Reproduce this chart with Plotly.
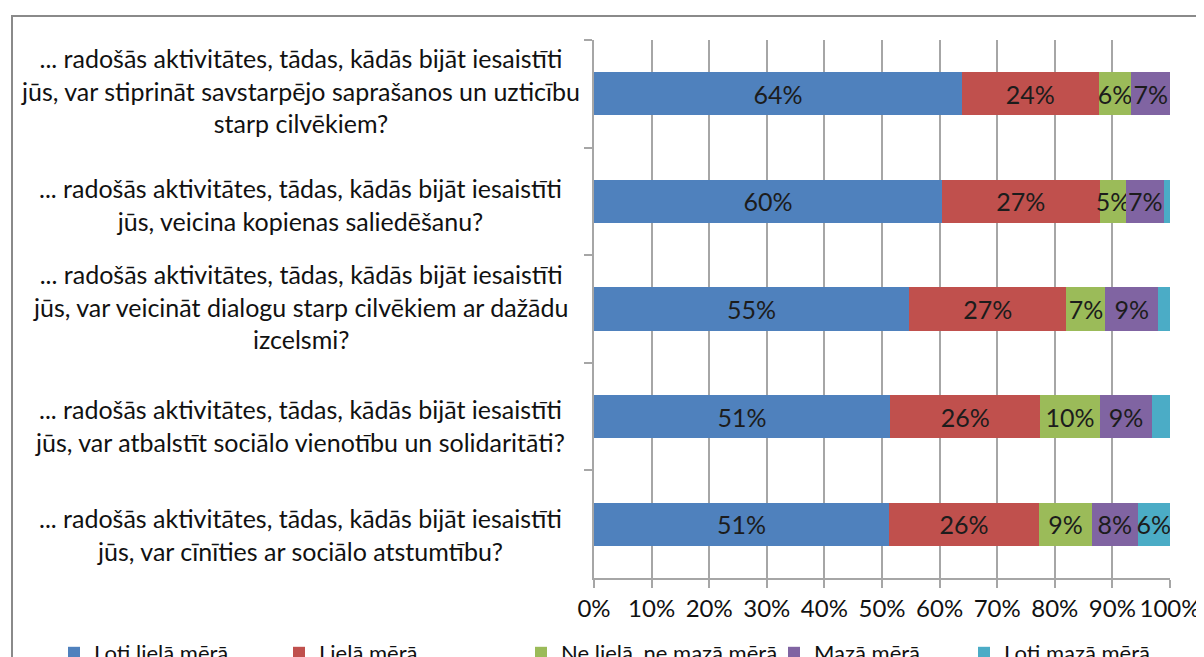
import plotly.graph_objects as go

questions = [
    ["... radošās aktivitātes, tādas, kādās bijāt iesaistīti",
     "jūs, var stiprināt savstarpējo saprašanos un uzticību",
     "starp cilvēkiem?"],
    ["... radošās aktivitātes, tādas, kādās bijāt iesaistīti",
     "jūs, veicina kopienas saliedēšanu?"],
    ["... radošās aktivitātes, tādas, kādās bijāt iesaistīti",
     "jūs, var veicināt dialogu starp cilvēkiem ar dažādu",
     "izcelsmi?"],
    ["... radošās aktivitātes, tādas, kādās bijāt iesaistīti",
     "jūs, var atbalstīt sociālo vienotību un solidaritāti?"],
    ["... radošās aktivitātes, tādas, kādās bijāt iesaistīti",
     "jūs, var cīnīties ar sociālo atstumtību?"],
]
categories = ["Q1", "Q2", "Q3", "Q4", "Q5"]

series_names = ["Ļoti lielā mērā", "Lielā mērā", "Ne lielā, ne mazā mērā",
                "Mazā mērā", "Ļoti mazā mērā"]
loti_liela = [63.9, 60.4, 54.7, 51.4, 51.2]
liela = [23.7, 27.4, 27.3, 26.1, 26.1]
ne_liela_ne_maza = [5.7, 4.6, 6.8, 10.3, 9.1]
maza = [6.7, 6.6, 9.1, 9.1, 8.0]
loti_maza = [0.0, 1.0, 2.1, 3.1, 5.6]
series_values = [loti_liela, liela, ne_liela_ne_maza, maza, loti_maza]
colors = ["#4F81BD", "#C0504D", "#9BBB59", "#8064A2", "#4BACC6"]

x_ticks = [0, 10, 20, 30, 40, 50, 60, 70, 80, 90, 100]
x_tick_labels = [f"{t}%" for t in x_ticks]

FONT = "Lato"
OFF = 8                      # page body margin
W, H = 1204, 700
L, R, T, B = 594 - OFF, 1170 - OFF, 40 - OFF, 578 - OFF


def px_x(p):
    return (p - OFF - L) / (R - L)


def px_y(p):
    return (B - (p - OFF)) / (B - T)


legend_ids = ["legend", "legend2", "legend3", "legend4", "legend5"]
legend_text_x = [95, 320, 562, 815, 1005]

fig = go.Figure()
for name, vals, col, lid in zip(series_names, series_values, colors, legend_ids):
    labels = [f"{round(v)}%" if v >= 4 else "" for v in vals]
    fig.add_trace(go.Bar(
        y=categories, x=vals, name=name, orientation="h",
        marker=dict(color=col, line=dict(width=0)),
        text=labels, textposition="inside", insidetextanchor="middle",
        textangle=0, textfont=dict(family=FONT, size=25, color="#1c1c1c"),
        hoverinfo="skip", legend=lid,
    ))

annotations = []
center_shift = [0, -6, 0, -12, -13]
for cat, lines, cs in zip(categories, questions, center_shift):
    annotations.append(dict(
        x=px_x(300), xref="paper", y=cat, yref="y",
        xanchor="center", yanchor="middle", align="center",
        text="<br>".join(lines), showarrow=False, yshift=cs + 3,
        font=dict(family=FONT, size=25, color="#111111"),
    ))

legend_layouts = {}
for lid, tx in zip(legend_ids, legend_text_x):
    legend_layouts[lid] = dict(
        orientation="h", x=px_x(tx - 41), xanchor="left",
        y=px_y(632), yanchor="top",
        font=dict(family=FONT, size=22, color="#111111"),
        itemclick=False, itemdoubleclick=False,
        bgcolor="rgba(0,0,0,0)",
    )

fig.update_layout(
    width=W, height=H,
    margin=dict(l=L, r=W - R, t=T, b=H - B, pad=0),
    barmode="stack", bargap=0.6,
    paper_bgcolor="white", plot_bgcolor="white",
    showlegend=True,
    uniformtext=dict(minsize=25, mode="show"),
    annotations=annotations,
    shapes=[dict(type="rect", xref="paper", yref="paper",
                 x0=px_x(12), x1=px_x(1300), y0=px_y(16), y1=px_y(760),
                 line=dict(color="#8a8a8a", width=2), fillcolor="rgba(0,0,0,0)",
                 layer="below")],
    **legend_layouts,
)
fig.update_xaxes(
    range=[0, 100], tickvals=x_ticks, ticktext=x_tick_labels,
    tickangle=0,
    showgrid=True, gridcolor="#a6a6a6", gridwidth=1.5,
    showline=True, linecolor="#a6a6a6", linewidth=1.5,
    ticks="outside", ticklen=8, tickcolor="#a6a6a6", tickwidth=1.5,
    tickfont=dict(family=FONT, size=24, color="#111111"),
    zeroline=False, fixedrange=True,
)
fig.update_yaxes(
    categoryorder="array", categoryarray=categories, autorange="reversed",
    showticklabels=False, showgrid=False,
    showline=True, linecolor="#a6a6a6", linewidth=1.5,
    ticks="outside", ticklen=8, tickcolor="#a6a6a6", tickwidth=1.5,
    tickson="boundaries", fixedrange=True,
)

fig.write_html("out.html")
